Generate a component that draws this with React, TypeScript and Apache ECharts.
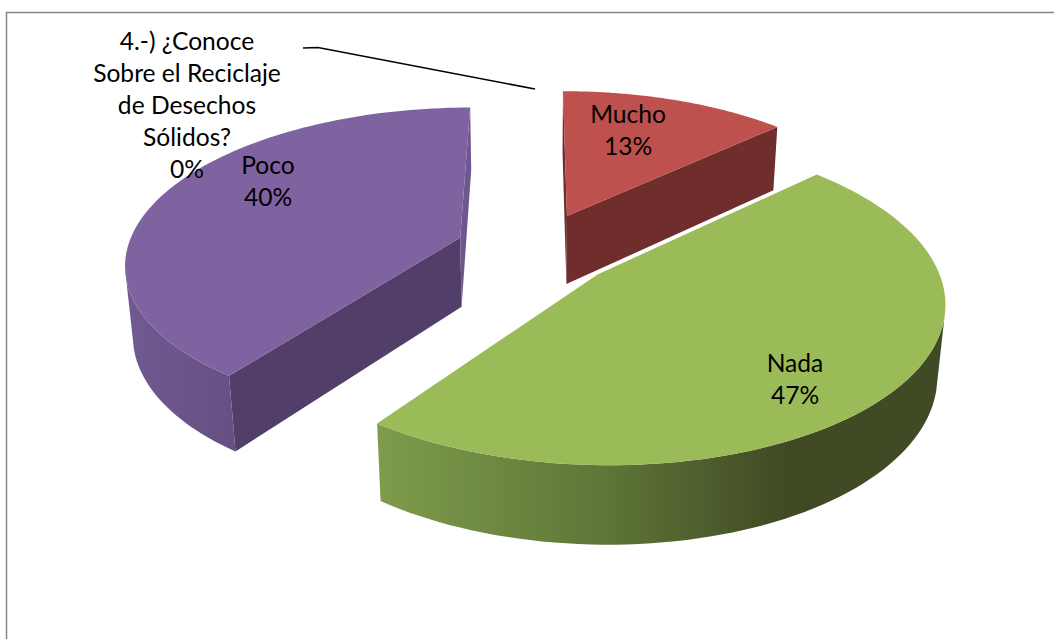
import React, { useEffect, useRef } from "react";
import * as echarts from "echarts";

const categories = ["4.-) ¿Conoce\nSobre el Reciclaje\nde Desechos\nSólidos?", "Mucho", "Nada", "Poco"];
const values = [0, 13, 47, 40];
const percentLabels = ["0%", "13%", "47%", "40%"];

const topColors = ["#4F81BD", "#BE504D", "#9BBB59", "#7F62A0"];
const cutColors = ["#4F81BD", "#6F2D2B", "#404A24", "#523F69"];
const thinColors = ["#4F81BD", "#6F2D2B", "#404A24", "#6E5790"];
const wallStops: [number, string][][] = [
  [],
  [],
  [[0, "#7E9C4C"], [0.4, "#5F7637"], [0.72, "#404A24"], [1, "#404A24"]],
  [[0, "#705A91"], [1, "#674F82"]],
];
const labelAnchors: [number, number][] = [[187, 104], [628, 129], [795, 378], [268, 180]];
const leader = [[303, 48], [318, 47.5], [535, 89]];

const CX = 536, CY = 249, F = 1932, DIST = 5.8, PHI = (27.4 * Math.PI) / 180;
const EXPLODE = 0.242, HEIGHT = 0.24;
const sinP = Math.sin(PHI), cosP = Math.cos(PHI);

function project(X: number, Y: number, Z: number): number[] {
  const depth = DIST + Y * cosP - Z * sinP;
  const up = Y * sinP + Z * cosP;
  return [CX + (F * X) / depth, CY - (F * up) / depth];
}

const total = values.reduce((a, b) => a + b, 0);

function renderSlice(params: any, api: any) {
  const i = params.dataIndex;
  const v = api.value(1);
  const before = values.slice(0, i).reduce((a, b) => a + b, 0);
  const a0 = (before / total) * Math.PI * 2;
  const a1 = ((before + v) / total) * Math.PI * 2;
  const mid = (a0 + a1) / 2;
  const ox = EXPLODE * Math.sin(mid);
  const oy = EXPLODE * Math.cos(mid);
  const children: any[] = [];
  const camX = 0, camY = -DIST * cosP;

  if (v > 0) {
    const n = 96;
    const angles: number[] = [];
    for (let k = 0; k <= n; k++) angles.push(a0 + ((a1 - a0) * k) / n);
    const rim = (a: number, z: number) => project(ox + Math.sin(a), oy + Math.cos(a), z);
    const apexT = project(ox, oy, 0);
    const apexB = project(ox, oy, -HEIGHT);

    const wall = (a: number, nx: number, ny: number, fill: string) => {
      const dot = nx * (camX - ox) + ny * (camY - oy);
      if (dot <= 0) return;
      children.push({
        type: "polygon",
        shape: { points: [apexT, rim(a, 0), rim(a, -HEIGHT), apexB] },
        style: { fill },
      });
    };
    const thin0 = Math.abs(Math.sin(a0)) < 0.01;
    wall(a0, -Math.cos(a0), Math.sin(a0), thin0 ? thinColors[i] : cutColors[i]);
    const thin1 = Math.abs(Math.sin(a1)) < 0.01;
    wall(a1, Math.cos(a1), -Math.sin(a1), thin1 ? thinColors[i] : cutColors[i]);

    const visible = angles.filter((a) => {
      const px = ox + Math.sin(a), py = oy + Math.cos(a);
      return Math.sin(a) * (camX - px) + Math.cos(a) * (camY - py) > 0;
    });
    if (visible.length > 1 && wallStops[i].length) {
      const pts = visible.map((a) => rim(a, 0)).concat(visible.slice().reverse().map((a) => rim(a, -HEIGHT)));
      const xs = pts.map((p) => p[0]);
      const x0 = Math.min(...xs), x1 = Math.max(...xs);
      children.push({
        type: "polygon",
        shape: { points: pts },
        style: {
          fill: new echarts.graphic.LinearGradient(
            x0, 0, x1, 0,
            wallStops[i].map(([offset, color]) => ({ offset, color })),
            true
          ),
        },
      });
    }

    const topPts = [apexT, ...angles.map((a) => rim(a, 0))];
    children.push({ type: "polygon", shape: { points: topPts }, style: { fill: topColors[i] } });
  } else {
    children.push({
      type: "polyline",
      z2: 5,
      shape: { points: leader },
      style: { fill: "none", stroke: "#000000", lineWidth: 1.6 },
    });
  }

  children.push({
    type: "text",
    z2: 20,
    x: labelAnchors[i][0],
    y: labelAnchors[i][1],
    style: {
      text: `${categories[i]}\n${percentLabels[i]}`,
      align: "center",
      verticalAlign: "middle",
      fontFamily: "Lato, Carlito, sans-serif",
      fontSize: 24.6,
      lineHeight: 32,
      fill: "#000000",
    },
  });
  return { type: "group", children };
}

export default function App() {
  const ref = useRef<HTMLDivElement>(null);
  useEffect(() => {
    const chart = echarts.init(ref.current!, undefined, { renderer: "svg" });
    chart.setOption({
      animation: false,
      backgroundColor: "#FFFFFF",
      graphic: [
        {
          type: "rect",
          shape: { x: 6.5, y: 12.5, width: 1100, height: 700 },
          style: { fill: "none", stroke: "#868686", lineWidth: 1.5 },
          silent: true,
        },
      ],
      series: [
        {
          type: "custom",
          coordinateSystem: "none",
          silent: true,
          clip: false,
          renderItem: renderSlice,
          data: values.map((v, i) => ({ name: categories[i], value: [i, v] })),
        },
      ],
    });
    return () => chart.dispose();
  }, []);
  return (
    <div
      ref={ref}
      style={{ position: "fixed", left: 0, top: 0, width: 1054, height: 639, overflow: "hidden" }}
    />
  );
}
